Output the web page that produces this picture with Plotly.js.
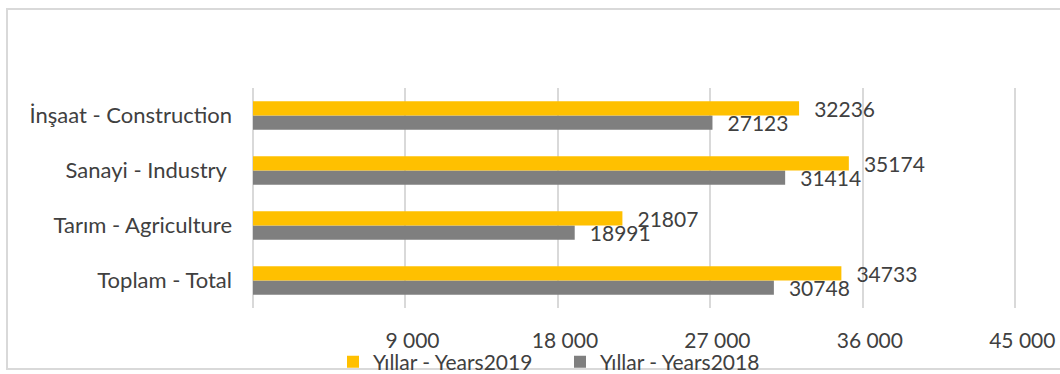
<!DOCTYPE html>
<html>
<head>
<meta charset="utf-8">
<script src="https://cdn.plot.ly/plotly-3.0.1.min.js"></script>
<style>
  html, body { margin: 0; padding: 0; background: #fff; }
  #chart { width: 1060px; height: 374px; }
</style>
</head>
<body>
<div id="chart"></div>
<script>
const categories = ["Toplam - Total", "Tarım - Agriculture", "Sanayi - Industry\u00a0", "İnşaat - Construction"];
const values2019 = [34733, 21807, 35174, 32236];
const values2018 = [30748, 18991, 31414, 27123];
const seriesNames = ["Yıllar - Years2019", "Yıllar - Years2018"];
const tickValues = [0, 9000, 18000, 27000, 36000, 45000];
const tickLabels = ["", "9 000", "18 000", "27 000", "36 000", "45 000"];

const FONT = "Lato, 'Open Sans', sans-serif";
const TXT = "#404040";

const labelFont = { family: FONT, size: 21, color: TXT };
const PAD = "\u00a0\u00a0\u200a";

const traces = [
  {
    type: "bar", orientation: "h",
    name: seriesNames[1],
    x: values2018, y: categories,
    marker: { color: "#7F7F7F" },
    text: values2018.map(String),
    texttemplate: PAD + "%{text}",
    textposition: "outside",
    constraintext: "none",
    cliponaxis: false,
    textfont: labelFont,
    hoverinfo: "x+name"
  },
  {
    type: "bar", orientation: "h",
    name: seriesNames[0],
    x: values2019, y: categories,
    marker: { color: "#FFC000" },
    text: values2019.map(String),
    texttemplate: PAD + "%{text}",
    textposition: "outside",
    constraintext: "none",
    cliponaxis: false,
    textfont: labelFont,
    hoverinfo: "x+name"
  }
];

const PLOT_W = 1060 - 253 - 43;

const layout = {
  width: 1060, height: 374,
  margin: { l: 253, r: 43, t: 88, b: 66, autoexpand: false },
  paper_bgcolor: "#ffffff",
  plot_bgcolor: "#ffffff",
  barmode: "group",
  bargap: 0.48,
  bargroupgap: 0,
  showlegend: true,
  font: { family: FONT, color: TXT },
  xaxis: {
    range: [0, 45100],
    tickmode: "array",
    tickvals: tickValues,
    ticktext: tickLabels,
    showgrid: true,
    gridcolor: "#D9D9D9",
    gridwidth: 2,
    zeroline: true,
    zerolinecolor: "#D9D9D9",
    zerolinewidth: 2,
    showline: false,
    ticks: "",
    ticklabelstandoff: 18,
    ticklabelshift: 7,
    tickfont: { family: FONT, size: 21, color: TXT },
    automargin: false,
    fixedrange: true
  },
  yaxis: {
    type: "category",
    categoryorder: "array",
    categoryarray: categories,
    showgrid: false,
    zeroline: false,
    showline: false,
    ticks: "",
    ticklabelstandoff: 20,
    tickfont: { family: FONT, size: 22, color: TXT },
    automargin: false,
    fixedrange: true
  },
  legend: {
    orientation: "h",
    traceorder: "reversed",
    xref: "container", yref: "container",
    x: 333 / 1060, xanchor: "left",
    y: 1 - 362 / 374, yanchor: "middle",
    font: { family: FONT, size: 21, color: TXT },
    entrywidth: 182,
    entrywidthmode: "pixels",
    bgcolor: "rgba(0,0,0,0)"
  },
  shapes: [
    {
      type: "rect", xref: "paper", yref: "paper",
      x0: (7 - 253) / PLOT_W, x1: (1066 - 253) / PLOT_W,
      y0: (308 - 369) / 220, y1: (308 - 9) / 220,
      line: { color: "#D9D9D9", width: 2 },
      fillcolor: "rgba(0,0,0,0)",
      layer: "below"
    }
  ]
};

Plotly.newPlot("chart", traces, layout, { displayModeBar: false, staticPlot: true });
</script>
</body>
</html>
